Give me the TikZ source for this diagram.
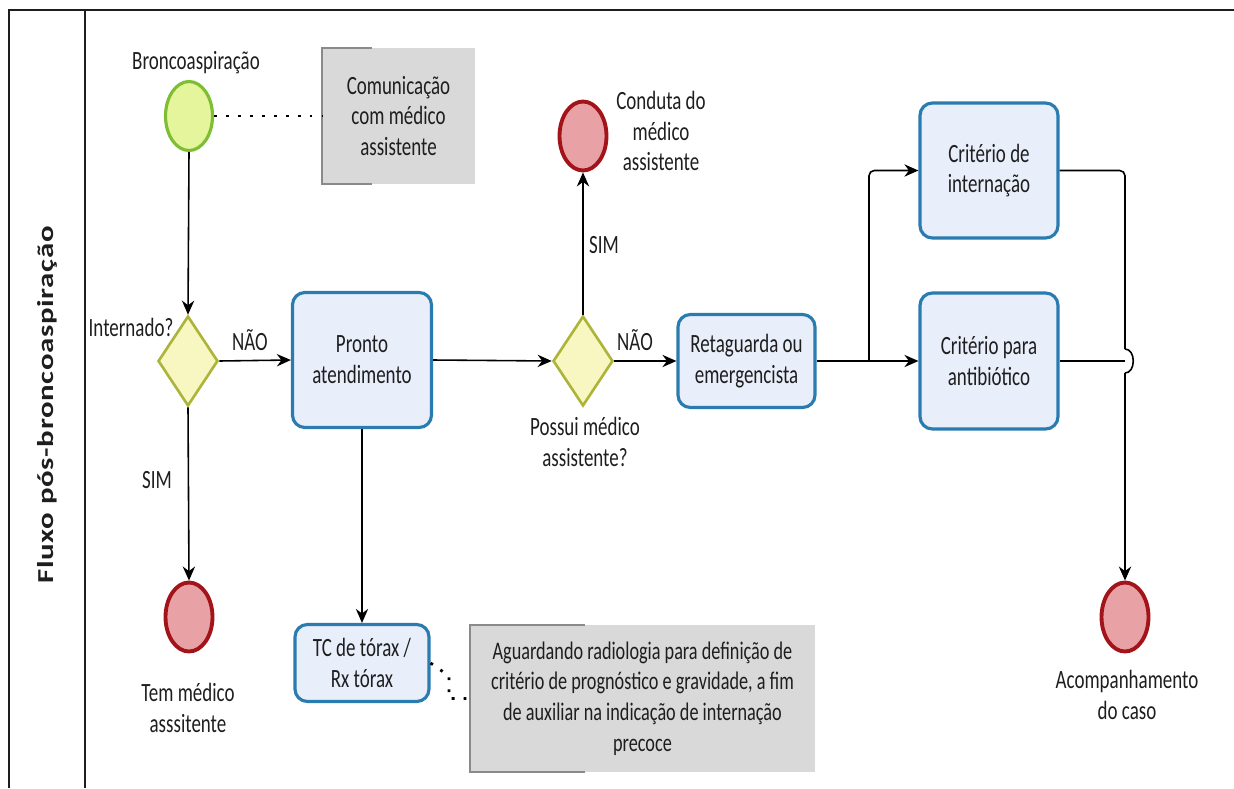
\documentclass[tikz,border=0pt]{standalone}
\usepackage{fontspec}
\setmainfont{Carlito}[FakeStretch=0.72]
\newfontfamily\titlefont{Carlito}[FakeStretch=1.35,LetterSpace=3]
\usetikzlibrary{arrows.meta,shapes.geometric}

\definecolor{ink}{HTML}{1E1E1E}
\definecolor{taskfill}{HTML}{E9EEFB}
\definecolor{taskline}{HTML}{2A7BB0}
\definecolor{startfill}{HTML}{E4F59C}
\definecolor{startline}{HTML}{7DBE32}
\definecolor{endfill}{HTML}{E8A1A4}
\definecolor{endline}{HTML}{A3141A}
\definecolor{gwfill}{HTML}{F8F7C2}
\definecolor{gwline}{HTML}{ADB43A}
\definecolor{notefill}{HTML}{D9D9D9}
\definecolor{noteline}{HTML}{8A8A8A}

\tikzset{
  every node/.style={text=ink, font=\fontsize{15}{17.5}\selectfont},
  task/.style={draw=taskline, fill=taskfill, line width=1.8pt, rounded corners=7pt,
    align=center, inner sep=0pt},
  startev/.style={ellipse, draw=startline, fill=startfill, line width=1.8pt,
    minimum width=0.94cm, minimum height=1.38cm, inner sep=0pt},
  endev/.style={ellipse, draw=endline, fill=endfill, line width=2.2pt,
    minimum width=0.94cm, minimum height=1.38cm, inner sep=0pt},
  gateway/.style={diamond, draw=gwline, fill=gwfill, line width=1.5pt,
    minimum width=1.2cm, minimum height=1.8cm, inner sep=0pt},
  note/.style={fill=notefill, align=center, inner sep=0pt},
  bracket/.style={draw=noteline, line width=1pt},
  lbl/.style={align=center},
  seqline/.style={draw=black, line width=0.9pt},
  flow/.style={seqline, -{Stealth[length=8pt,width=7pt]}},
  assoc/.style={draw=black, line width=1.6pt, dash pattern=on 1.6pt off 5.2pt},
}

\begin{document}
\begin{tikzpicture}[x=0.02cm,y=-0.02cm]
\useasboundingbox (0,0) rectangle (1234,788);

% pool and lane frame
\draw[line width=1.4pt, draw=ink] (9,788) -- (9,10) -- (1234,10);
\draw[line width=1.2pt, draw=ink] (85,10) -- (85,788);
\node[rotate=90, font=\titlefont\bfseries\fontsize{13}{15}\selectfont] (pool) at (47,405)
  {Fluxo pós-broncoaspiração};

% events, gateways and tasks
\node[startev] (start) at (189,116) {};
\node (startlbl) at (196,63) {Broncoaspiração};

\node[note, minimum width=3.06cm, minimum height=2.72cm] (comm) at (398.5,116)
  {Comunicação\\com médico\\assistente};
\draw[bracket] ([xshift=1cm]comm.north west) -- (comm.north west) -- (comm.south west) -- ([xshift=1cm]comm.south west);

\node[gateway] (d1) at (188,361) {};
\node (d1lbl) at (131,327) {Internado?};

\node[task, minimum width=2.78cm, minimum height=2.7cm] (pa) at (362,360) {Pronto\\atendimento};

\node[endev] (e1) at (189,617) {};
\node[lbl] (e1lbl) at (188,708) {Tem médico\\asssitente};

\node[task, minimum width=2.68cm, minimum height=1.54cm] (tc) at (362,663) {TC de tórax /\\Rx tórax};

\node[note, minimum width=6.9cm, minimum height=2.94cm,
      font=\fontsize{14.4}{17.5}\selectfont] (note2) at (642.5,698.5)
  {Aguardando radiologia para definição de\\critério de prognóstico e gravidade, a fim\\de auxiliar na indicação de internação\\precoce};
\draw[bracket] ([xshift=2.3cm]note2.north west) -- (note2.north west) -- (note2.south west) -- ([xshift=2.3cm]note2.south west);

\node[gateway] (d2) at (583,361) {};
\node[lbl] (d2lbl) at (585,442) {Possui médico\\assistente?};

\node[endev] (e2) at (583,136) {};
\node[lbl] (e2lbl) at (661,131) {Conduta do\\médico\\assistente};

\node[task, minimum width=2.74cm, minimum height=1.86cm] (ret) at (746.5,361) {Retaguarda ou\\emergencista};

\node[task, minimum width=2.76cm, minimum height=2.7cm] (ci) at (989,170.5) {Critério de\\internação};
\node[task, minimum width=2.76cm, minimum height=2.72cm] (ca) at (989,361) {Critério para\\antibiótico};

\node[endev] (e3) at (1125,617) {};
\node[lbl] (e3lbl) at (1127,695) {Acompanhamento\\do caso};

% flow labels
\node (no1) at (250,340) {NÃO};
\node (no2) at (635,340) {NÃO};
\node (yes1) at (157,480) {SIM};
\node (yes2) at (604,245) {SIM};

% sequence flows
\draw[flow] (start.south) -- (d1.north);
\draw[flow] (d1.east) -- (pa.west);
\draw[flow] (d1.south) -- (e1.north);
\draw[flow] (pa.south) -- (tc.north);
\draw[flow] (pa.east) -- (d2.west);
\draw[flow] (d2.north) -- (e2.south);
\draw[flow] (d2.east) -- (ret.west);
\draw[flow] (ret.east) -- (ca.west);

\coordinate (split) at (869,361);
\coordinate (splitup) at (869,170.5);
\draw[flow, rounded corners=3pt] (split) -- (splitup) -- (ci.west);

\coordinate (join) at (1125,170.5);
\coordinate (hopA) at (1125,349);
\coordinate (hopB) at (1125,373);
\coordinate (hopmid) at (1125,361);
\draw[seqline, rounded corners=3pt] (ci.east) -- (join) -- (hopA);
\draw[seqline] (hopA) .. controls (1136,349) and (1136,373) .. (hopB);
\draw[flow] (hopB) -- (e3.north);
\draw[seqline] (ca.east) -- (hopmid);

% associations
\draw[assoc] (start.east) -- (comm.west);
\coordinate (k1) at (449,676);
\coordinate (k2) at (449,698.5);
\draw[assoc] (tc.east) -- (k1) -- (k2) -- (note2.west);
\end{tikzpicture}
\end{document}
